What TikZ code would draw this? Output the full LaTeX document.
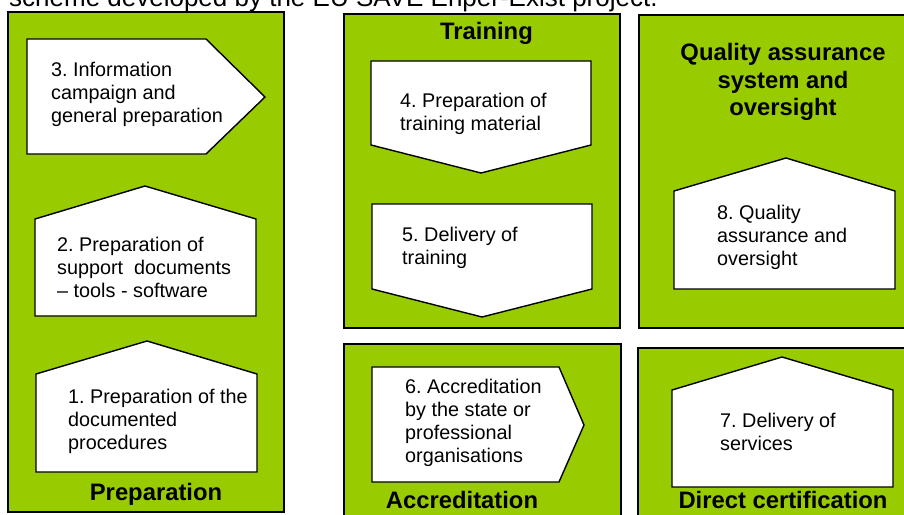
\documentclass[tikz,border=0pt]{standalone}
\usepackage{fontspec}
\setmainfont{Liberation Sans}
\frenchspacing
\definecolor{leaf}{RGB}{153,204,0}

\begin{document}
\begin{tikzpicture}[x=1pt,y=-1pt,
    panel/.style={draw=black,line width=2pt,fill=leaf},
    stage/.style={draw=black,line width=1.4pt,fill=white},
    txt/.style={anchor=west,align=left,inner sep=0pt,font=\fontsize{19.8}{23}\selectfont},
    head/.style={anchor=base,inner sep=0pt,font=\fontsize{23.8}{27.2}\selectfont\bfseries}]
  \useasboundingbox (0,0) rectangle (904,514);
  \clip (0,0) rectangle (904,514);
  \node[anchor=base west,inner sep=0pt,font=\fontsize{26}{30}\selectfont] (caption) at (9,6) {scheme developed by the EU SAVE Enper-Exist project.};
  \draw[panel] (8,12) rectangle (284,512);
  \draw[panel] (344,14) rectangle (620,328);
  \draw[panel] (639,15) rectangle (912,328);
  \draw[panel] (344,344) rectangle (621,520);
  \draw[panel] (638,348) rectangle (912,520);
  \draw[stage] (27,39) -- (206,39) -- (265,97) -- (206,154) -- (27,154) -- cycle;
  \draw[stage] (35,219) -- (145,186) -- (256,219) -- (256,316) -- (35,316) -- cycle;
  \draw[stage] (36,374) -- (147,341) -- (257,374) -- (257,472) -- (36,472) -- cycle;
  \draw[stage] (371,61) -- (591,61) -- (591,145) -- (481,173) -- (371,145) -- cycle;
  \draw[stage] (372,204) -- (592,204) -- (592,289) -- (482,317) -- (372,289) -- cycle;
  \draw[stage] (674,191) -- (786,158) -- (895,191) -- (895,289) -- (674,289) -- cycle;
  \draw[stage] (372,367) -- (559,367) -- (584,425) -- (559,482) -- (372,482) -- cycle;
  \draw[stage] (672,390) -- (782,357) -- (893,390) -- (893,487) -- (672,487) -- cycle;
  \node[txt] (info) at (51,94) {3. Information\\campaign and\\general preparation};
  \node[txt] (support) at (57,267) {2. Preparation of\\support\ \ documents\\– tools - software};
  \node[txt] (procs) at (68,421) {1. Preparation of the\\documented\\procedures};
  \node[txt] (material) at (400,113.5) {4. Preparation of\\training material};
  \node[txt] (delivery) at (402,248) {5. Delivery of\\training};
  \node[txt] (quality) at (717,237.5) {8. Quality\\assurance and\\oversight};
  \node[txt] (accred) at (405,422.5) {6. Accreditation\\by the state or\\professional\\organisations};
  \node[txt] (services) at (720,432) {7. Delivery of\\services};
  \node[head] (prep) at (156,500.5) {Preparation};
  \node[head] (train) at (486.5,39.3) {Training};
  \node[head,anchor=center,align=center] (qas) at (783,82) {Quality assurance\\system and\\oversight};
  \node[head] (acc) at (462,508.5) {Accreditation};
  \node[head] (direct) at (783,508) {Direct certification};
\end{tikzpicture}
\end{document}
